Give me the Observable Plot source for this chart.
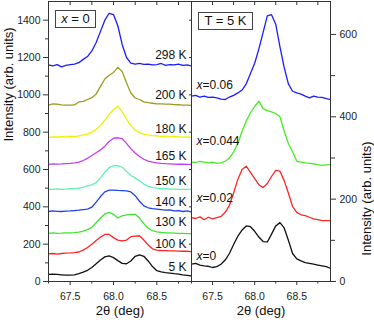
<!DOCTYPE html>
<html><head><meta charset="utf-8">
<script src="https://cdn.jsdelivr.net/npm/d3@7"></script>
<script src="https://cdn.jsdelivr.net/npm/@observablehq/plot@0.6"></script>
<style>
body{margin:0;background:#fff;}
#wrap{position:relative;width:374px;height:322px;overflow:hidden;font-family:"Liberation Sans",Arial,sans-serif;}
#wrap svg{position:absolute;top:0;}
.box{position:absolute;box-sizing:border-box;border:1px solid #444;font-size:13px;text-align:center;background:#fff;color:#111;}
</style></head><body><div id="wrap"></div>
<script>
// 2θ sampling (deg)
const theta = [67.25,67.30,67.35,67.40,67.45,67.50,67.55,67.60,67.65,67.70,67.75,67.80,67.85,67.90,67.95,68.00,68.05,68.10,68.15,68.20,68.25,68.30,68.35,68.40,68.45,68.50,68.55,68.60,68.65,68.70,68.75,68.80,68.85,68.90];

// Left panel: x = 0, various temperatures
const leftNames = ["298 K","200 K","180 K","165 K","150 K","140 K","130 K","100 K","5 K"];
const int298K = [1160,1155,1162,1150,1158,1162,1165,1172,1190,1205,1235,1280,1340,1400,1437,1430,1370,1270,1200,1170,1165,1168,1163,1165,1160,1162,1168,1158,1162,1160,1165,1158,1160,1155];
const int200K = [945,952,950,946,945,945,946,962,965,975,985,1005,1045,1085,1105,1120,1147,1125,1065,1010,983,975,962,958,955,952,952,950,950,948,947,945,945,943];
const int180K = [772,775,774,776,775,777,776,780,785,790,800,815,835,865,895,920,940,910,870,835,810,797,790,785,782,780,778,776,775,777,775,773,775,772];
const int165K = [628,630,629,630,632,633,635,640,648,660,675,690,705,725,750,768,770,765,740,712,688,670,655,645,640,636,633,631,630,629,628,628,627,627];
const int150K = [495,494,496,494,495,497,498,500,505,512,518,530,555,585,610,620,620,612,590,568,555,540,522,510,503,500,498,497,495,495,494,494,494,493];
const int140K = [375,378,376,375,377,378,380,382,385,388,398,425,455,480,490,490,488,487,485,480,460,430,405,395,390,388,385,382,384,378,380,375,378,372];
const int130K = [258,260,258,259,261,260,262,265,270,278,290,315,340,362,370,360,340,352,357,360,360,340,310,285,272,266,263,261,260,259,258,258,257,257];
const int100K = [148,150,147,150,152,153,155,158,168,182,200,220,238,252,252,235,222,218,222,240,243,245,222,195,175,168,166,165,164,164,163,162,162,160];
const int5K   = [38,40,38,36,34,34,36,42,50,60,75,95,115,132,137,128,112,97,95,110,135,143,135,110,80,58,52,48,45,42,40,36,33,30];
const leftColors = ["#1c1cff","#9c9c1e","#f0f000","#c23cf5","#5cf2b0","#2040f0","#3ae82a","#ff2424","#111111"];
const leftLabelY = [1213,997,818,672,539,423,316,200,78];

// Right panel: T = 5 K, various x
const rightNames = ["0.06","0.044","0.02","0"];
const intX006  = [450,452,448,450,447,448,446,443,442,448,452,458,465,480,505,530,565,605,645,648,625,570,520,480,462,458,455,450,446,450,448,447,444,442];
const intX0044 = [290,289,292,290,288,290,287,288,292,300,315,335,365,390,410,425,438,420,415,412,408,400,365,335,315,292,290,288,287,286,284,282,283,284];
const intX002  = [155,153,157,150,156,152,155,158,168,185,215,248,272,280,265,250,235,228,238,255,270,268,245,215,182,168,162,160,156,152,150,148,148,148];
const intX0    = [42,44,40,38,37,34,36,42,52,68,90,110,125,135,133,122,108,97,96,115,135,143,130,100,68,55,50,46,44,42,40,38,36,32];
const rightColors = ["#1c1cff","#44ee22","#ff2424","#111111"];
const rightLabelY = [476,341,203,62];

// Axis ticks
const xMajor = [67.5,68.0,68.5];
const xMinor = [67.25,67.75,68.25,68.75];
const leftYMajor = [0,200,400,600,800,1000,1200,1400];
const leftYMinor = [100,300,500,700,900,1100,1300];
const rightYMajor = [0,200,400,600];
const rightYMinor = [100,300,500];

const leftSeries = [int298K,int200K,int180K,int165K,int150K,int140K,int130K,int100K,int5K];
const rightSeries = [intX006,intX0044,intX002,intX0];
const toRows = (names, series) => names.flatMap((n, i) => theta.map((t, j) => ({theta: t, intensity: series[i][j], name: n})));
const leftRows = toRows(leftNames, leftSeries);
const rightRows = toRows(rightNames, rightSeries);

const font = '"Liberation Sans", Arial, sans-serif';
const style = {fontFamily: font, fontSize: "10.5px", color: "#222", background: "transparent", overflow: "visible"};
const fmt1 = d3.format(".1f");
const fmtD = d3.format("d");
const blank = () => "";

const left = Plot.plot({
  width: 192, height: 322,
  marginLeft: 48, marginRight: 1, marginTop: 1, marginBottom: 41,
  x: {domain: [67.25, 68.9]},
  y: {domain: [0, 1500]},
  color: {domain: leftNames, range: leftColors},
  style,
  marks: [
    Plot.line(leftRows, {x: "theta", y: "intensity", z: "name", stroke: "name", strokeWidth: 1.3, clip: true}),
    Plot.frame({stroke: "#333"}),
    Plot.axisX({ticks: xMajor, tickSize: 4, tickPadding: 7, tickFormat: fmt1, label: null, stroke: "#333"}),
    Plot.axisX({ticks: xMinor, tickSize: 2.5, tickFormat: blank, label: null, stroke: "#333"}),
    Plot.axisX({anchor: "top", ticks: xMajor.concat(xMinor), tickSize: -3, tickFormat: blank, label: null, stroke: "#333"}),
    Plot.axisY({ticks: leftYMajor, tickSize: 5, tickPadding: 3, tickFormat: fmtD, label: null, stroke: "#333"}),
    Plot.axisY({ticks: leftYMinor, tickSize: 3, tickFormat: blank, label: null, stroke: "#333"}),
    Plot.axisY({anchor: "right", ticks: leftYMajor, tickSize: -3, tickFormat: blank, label: null, stroke: "#333"}),
    Plot.text(leftNames, {y: leftLabelY, text: d => d, frameAnchor: "right", textAnchor: "end", dx: -5, fontSize: 12, fill: "#111"}),
    Plot.text(["2θ (deg)"], {frameAnchor: "bottom", dy: 33, fontSize: 13, fill: "#111"}),
    Plot.text(["Intensity (arb. units)"], {frameAnchor: "left", rotate: -90, dx: -40, fontSize: 13, fill: "#111"})
  ]
});

const right = Plot.plot({
  width: 184, height: 322,
  marginLeft: 1, marginRight: 44, marginTop: 1, marginBottom: 41,
  x: {domain: [67.25, 68.9]},
  y: {domain: [0, 680]},
  color: {domain: rightNames, range: rightColors},
  style,
  marks: [
    Plot.line(rightRows, {x: "theta", y: "intensity", z: "name", stroke: "name", strokeWidth: 1.3, clip: true}),
    Plot.frame({stroke: "#333"}),
    Plot.axisX({ticks: xMajor, tickSize: 4, tickPadding: 7, tickFormat: fmt1, label: null, stroke: "#333"}),
    Plot.axisX({ticks: xMinor, tickSize: 2.5, tickFormat: blank, label: null, stroke: "#333"}),
    Plot.axisX({anchor: "top", ticks: xMajor.concat(xMinor), tickSize: -3, tickFormat: blank, label: null, stroke: "#333"}),
    Plot.axisY({anchor: "right", ticks: rightYMajor, tickSize: 5, tickPadding: 4, tickFormat: fmtD, label: null, stroke: "#333"}),
    Plot.axisY({anchor: "right", ticks: rightYMinor, tickSize: 4, tickFormat: blank, label: null, stroke: "#333"}),
    Plot.text(rightNames, {y: rightLabelY, text: () => "x", frameAnchor: "left", textAnchor: "start", dx: 5, fontSize: 12, fontStyle: "italic", fill: "#111"}),
    Plot.text(rightNames, {y: rightLabelY, text: d => "=" + d, frameAnchor: "left", textAnchor: "start", dx: 11, fontSize: 12, fill: "#111"}),
    Plot.text(["2θ (deg)"], {frameAnchor: "bottom", dy: 33, fontSize: 13, fill: "#111"}),
    Plot.text(["Intensity (arb. units)"], {frameAnchor: "right", rotate: -90, dx: 36, fontSize: 13, fill: "#111"})
  ]
});

const wrap = document.getElementById("wrap");
left.style.left = "0px";
right.style.left = "190px";
wrap.appendChild(left);
wrap.appendChild(right);

const b1 = document.createElement("div");
b1.className = "box";
b1.style.cssText = "left:55px;top:10px;width:41px;height:18px;line-height:16px;";
b1.innerHTML = "<i>x</i> = 0";
wrap.appendChild(b1);
const b2 = document.createElement("div");
b2.className = "box";
b2.style.cssText = "left:198px;top:12px;width:55px;height:18px;line-height:16px;";
b2.textContent = "T = 5 K";
wrap.appendChild(b2);
</script>
</body></html>
